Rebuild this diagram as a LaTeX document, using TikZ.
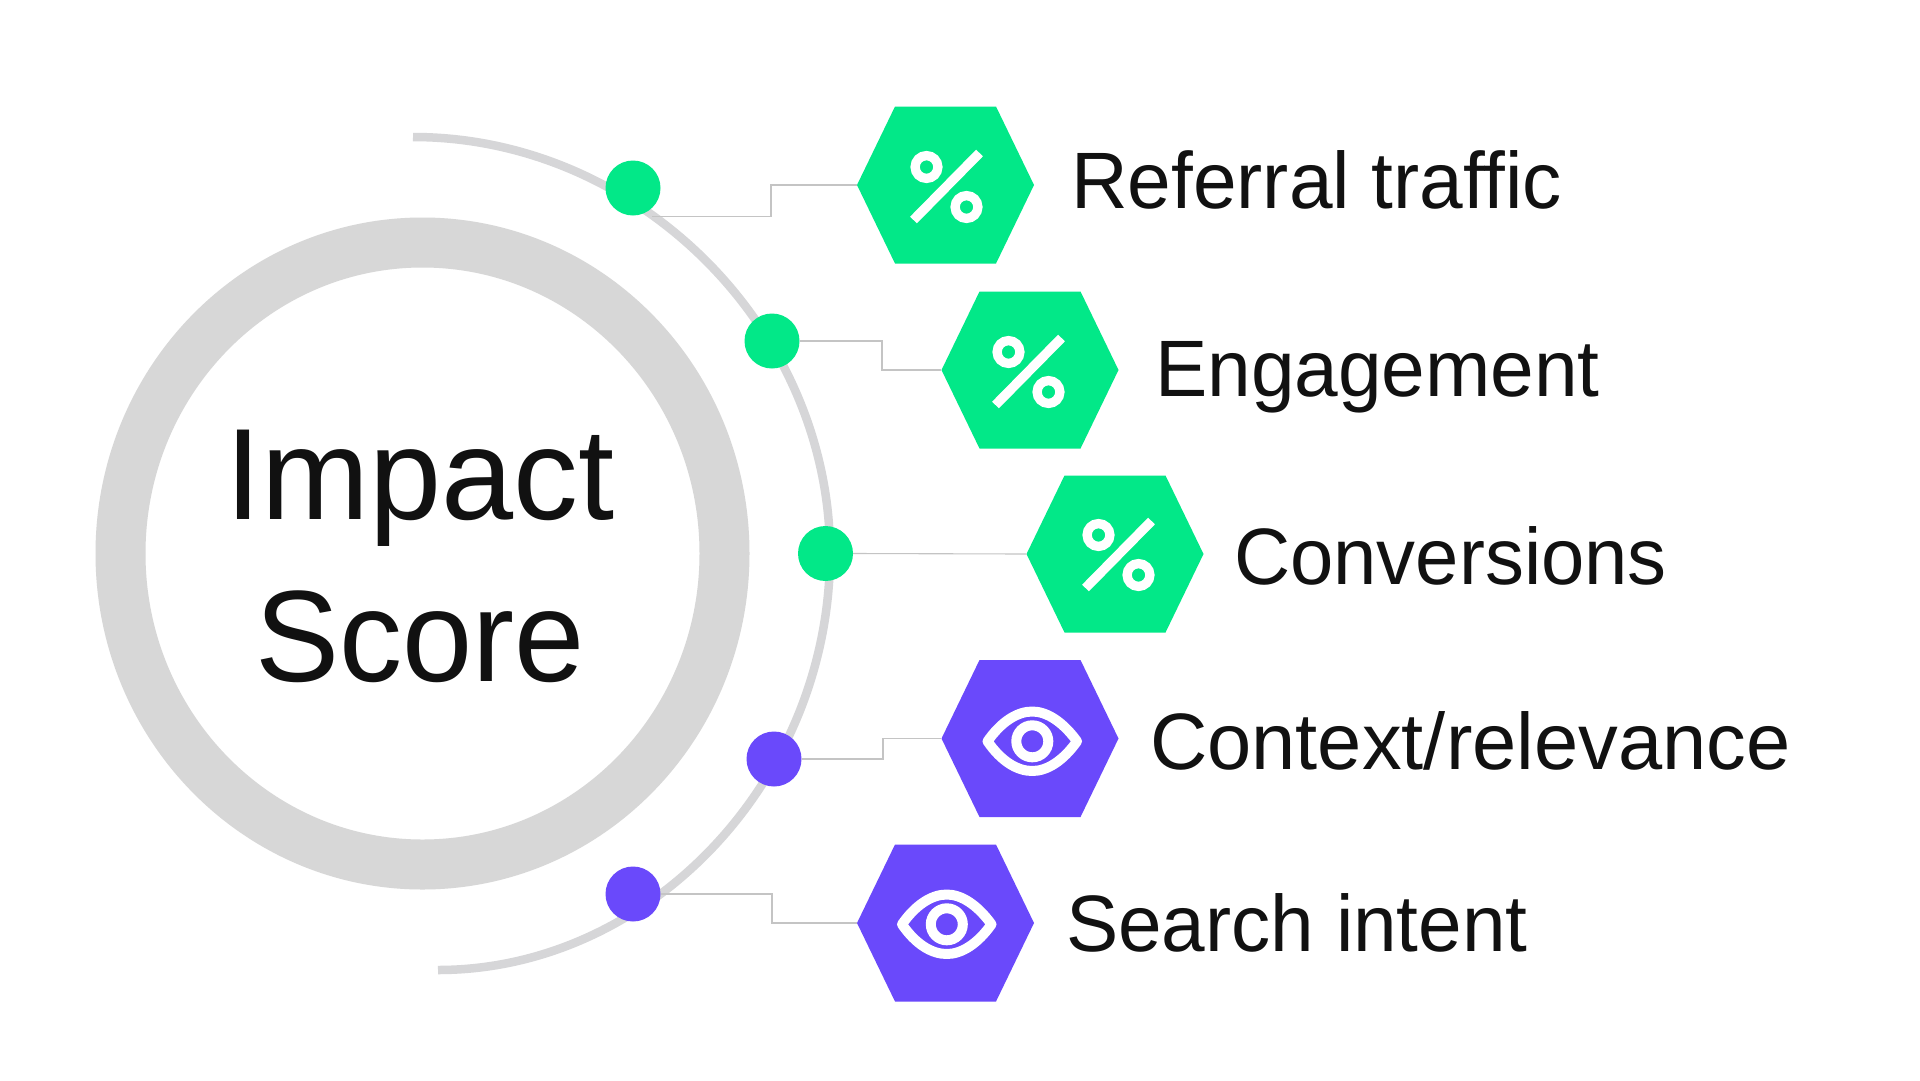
\documentclass[tikz,border=0pt]{standalone}
\usepackage{fontspec}
\setmainfont{Liberation Sans}
\definecolor{grn}{HTML}{02E888}
\definecolor{prp}{HTML}{6A49FB}
\definecolor{ringc}{HTML}{D7D7D7}
\definecolor{arcc}{HTML}{D6D6D8}
\definecolor{linec}{HTML}{C4C4C4}
\definecolor{ink}{HTML}{111111}
\tikzset{
  x=1pt,y=-1pt,
  dotnode/.style={circle,draw=none,inner sep=0pt,minimum size=55pt,fill=#1},
  hexbox/.style={rectangle,draw=none,inner sep=0pt,minimum width=177pt,minimum height=157pt},
  conn/.style={draw=linec,line width=1.1pt},
  lab/.style={anchor=base west,inner sep=0pt,text=ink,font=\fontsize{80}{80}\selectfont,xscale=#1,transform shape},
  big/.style={anchor=base,inner sep=0pt,text=ink,font=\fontsize{130}{130}\selectfont,xscale=#1,transform shape},
  iconline/.style={draw=white,line width=#1,fill=none},
  pics/hexshape/.style={code={
    \fill[#1] (-50.5,-78.5) -- (50.5,-78.5) -- (88.5,0) -- (50.5,78.5) -- (-50.5,78.5) -- (-88.5,0) -- cycle;
  }},
  pics/percent/.style={code={
    \draw[iconline=9.3pt] (-19,-18) circle[radius=11.4];
    \draw[iconline=9.3pt] (21,22) circle[radius=11.4];
    \draw[iconline=9.5pt] (34,-32) -- (-32,35);
  }},
  pics/eye/.style={code={
    \draw[iconline=10pt,line join=round] (-43.5,1.3) .. controls (-30,-18) and (-14,-28.5) .. (1.3,-28.5)
      .. controls (16,-28.5) and (32,-18) .. (46,1.3)
      .. controls (32,21) and (16,31) .. (1.3,31)
      .. controls (-14,31) and (-30,21) .. cycle;
    \draw[iconline=10pt] (1.3,1.3) circle[radius=16];
  }},
}
\begin{document}
\begin{tikzpicture}
\useasboundingbox (0,0) rectangle (1920,1080);
\fill[white] (0,0) rectangle (1920,1080);
% ring and arc
\coordinate (ringc) at (422.5,553.5);
\coordinate (arcstart) at (413,137);
\draw[ringc,line width=50pt] (ringc) ellipse[x radius=302,y radius=311];
\draw[arcc,line width=8.5pt] (arcstart) .. controls (640,137) and (830,330) .. (830,553.5)
   .. controls (830,780) and (650,970) .. (438,970);
% hexagons
\path (945.5,185) pic{hexshape=grn} pic{percent} node[hexbox] (h1) {};
\path (1030,370) pic{hexshape=grn} +(-2.5,0) pic{percent} node[hexbox] (h2) at (1030,370) {};
\path (1115,554) pic{hexshape=grn} +(2.5,-1) pic{percent} node[hexbox] (h3) at (1115,554) {};
\path (1030,738.5) pic{hexshape=prp} +(1,1.5) pic{eye} node[hexbox] (h4) at (1030,738.5) {};
\path (945.5,923) pic{hexshape=prp} pic{eye} node[hexbox] (h5) {};
% dots
\node[dotnode=grn] (d1) at (633,188) {};
\node[dotnode=grn] (d2) at (772,341) {};
\node[dotnode=grn] (d3) at (825.5,553.5) {};
\node[dotnode=prp] (d4) at (774,759) {};
\node[dotnode=prp] (d5) at (633,894) {};
% connectors
\coordinate (c1) at (652,216.7);
\draw[conn] (c1) -- (771,216.7) |- (h1.west);
\draw[conn] (d2.east) -- (882,341) |- (h2.west);
\draw[conn] (d3.east) -- (h3.west);
\draw[conn] (d4.east) -- (883,759) |- (h4.west);
\draw[conn] (d5.east) -- (772,894) |- (h5.west);
% text
\node[big=0.997] (t1) at (420,519) {Impact};
\node[big=0.97] (t2) at (420,681) {Score};
\node[lab=0.98] (l1) at (1071,208) {Referral traffic};
\node[lab=0.98] (l2) at (1155,396) {Engagement};
\node[lab=0.973] (l3) at (1234,584) {Conversions};
\node[lab=0.993] (l4) at (1150,769) {Context/relevance};
\node[lab=0.979] (l5) at (1066,951) {Search intent};
\end{tikzpicture}
\end{document}
